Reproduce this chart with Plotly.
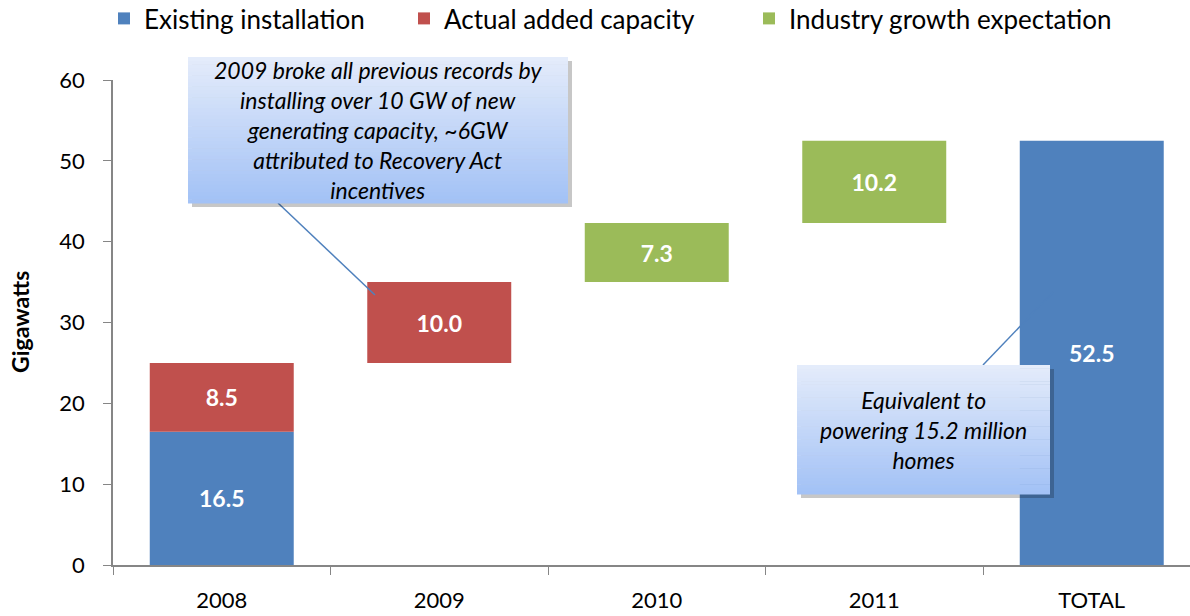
import plotly.graph_objects as go
import numpy as np

categories = ["2008", "2009", "2010", "2011", "TOTAL"]
existing_x = ["2008", "TOTAL"]
existing_vals = [16.5, 52.5]
actual_x = ["2008", "2009"]
actual_vals = [8.5, 10.0]
growth_x = ["2010", "2011"]
growth_vals = [7.3, 10.2]

BLUE = "#4F81BD"
RED = "#C0504D"
GREEN = "#9BBB59"
FONT = "Lato"

# waterfall bases
actual_base = [existing_vals[0], existing_vals[0] + actual_vals[0]]
g0 = actual_base[1] + actual_vals[1]
growth_base = [g0, g0 + growth_vals[0]]

W, H = 1190, 616
ML, MR, MT, MB = 113, 0, 80, 51
PW, PH = W - ML - MR, H - MT - MB
cat_px = 217.5
x_hi = -0.5 + PW / cat_px

def px(x):
    return (x - ML) / PW

def py(y):
    return (H - MB - y) / PH

fig = go.Figure()
common = dict(width=0.662, textposition="inside", insidetextanchor="middle",
              texttemplate="%{y:.1f}", textfont=dict(color="white", size=23, family=FONT, weight="bold"),
              marker_line_width=0, hoverinfo="skip", showlegend=True)
fig.add_trace(go.Bar(name="Existing installation", x=existing_x, y=existing_vals,
                     marker_color=BLUE, legend="legend", **common))
fig.add_trace(go.Bar(name="Actual added capacity", x=actual_x, y=actual_vals, base=actual_base,
                     marker_color=RED, legend="legend2", **common))
fig.add_trace(go.Bar(name="Industry growth expectation", x=growth_x, y=growth_vals, base=growth_base,
                     marker_color=GREEN, legend="legend3", **common))

shapes = []
annotations = []

def callout(x0, y0, x1, y1, text, line_from, line_to):
    shapes.append(dict(type="line", xref="paper", yref="paper",
                       x0=px(line_from[0]), y0=py(line_from[1]), x1=px(line_to[0]), y1=py(line_to[1]),
                       line=dict(color=BLUE, width=1.5), layer="above"))
    shapes.append(dict(type="rect", xref="paper", yref="paper",
                       x0=px(x0 + 4), x1=px(x1 + 4), y0=py(y0 + 4), y1=py(y1 + 4),
                       fillcolor="rgba(0,0,0,0.22)", line_width=0, layer="above"))
    n = 40
    top = np.array([228, 236, 251])
    bot = np.array([163, 194, 246])
    for i in range(n):
        t = i / (n - 1)
        c = top + (bot - top) * t
        ya = y0 + (y1 - y0) * i / n
        yb = y0 + (y1 - y0) * (i + 1) / n
        shapes.append(dict(type="rect", xref="paper", yref="paper",
                           x0=px(x0), x1=px(x1), y0=py(ya), y1=py(yb + 0.5),
                           fillcolor="rgb(%d,%d,%d)" % tuple(c), line_width=0, layer="above"))
    annotations.append(dict(xref="paper", yref="paper", x=px((x0 + x1) / 2), y=py((y0 + y1) / 2),
                            text=text, showarrow=False, xanchor="center", yanchor="middle",
                            font=dict(family=FONT, size=23, color="black", style="italic")))

callout(188, 57, 568, 203,
        "2009 broke all previous records by<br>installing over 10 GW of new<br>generating capacity, ~6GW<br>attributed to Recovery Act<br>incentives",
        (278, 203), (375, 295))
callout(797, 365, 1050, 494,
        "Equivalent to<br>powering 15.2 million<br>homes",
        (983, 365), (1053, 292))

annotations.append(dict(xref="paper", yref="paper", x=px(20), y=py(322), text="<b>Gigawatts</b>",
                        textangle=-90, showarrow=False, xanchor="center", yanchor="middle",
                        font=dict(family=FONT, size=23, color="black")))

def leg(xpix):
    return dict(orientation="h", x=px(xpix), xanchor="left", y=py(-5), yanchor="top",
                font=dict(size=26, family=FONT), itemclick=False, bgcolor="rgba(0,0,0,0)")

fig.update_layout(
    width=W, height=H,
    margin=dict(l=ML, r=MR, t=MT, b=MB, autoexpand=False),
    plot_bgcolor="white", paper_bgcolor="white",
    barmode="overlay",
    showlegend=True,
    font=dict(family=FONT, color="black"),
    legend=leg(104), legend2=leg(404), legend3=leg(749),
    shapes=shapes,
    annotations=annotations,
    xaxis=dict(type="category", categoryorder="array", categoryarray=categories,
               range=[-0.5, x_hi], showline=True, linecolor="#868686", linewidth=1.5,
               ticks="outside", tickson="boundaries", ticklen=8, tickcolor="#868686",
               tickfont=dict(size=22, family=FONT), ticklabelstandoff=15, showgrid=False),
    yaxis=dict(range=[0, 60], dtick=10, showline=True, linecolor="#868686", linewidth=1.5,
               ticks="outside", ticklen=8, tickcolor="#868686", showgrid=False, zeroline=False,
               tickfont=dict(size=22, family=FONT), ticklabelstandoff=14),
)

fig.write_html("out.html", config={"displayModeBar": False},
               post_script="document.body.style.margin='0';")
